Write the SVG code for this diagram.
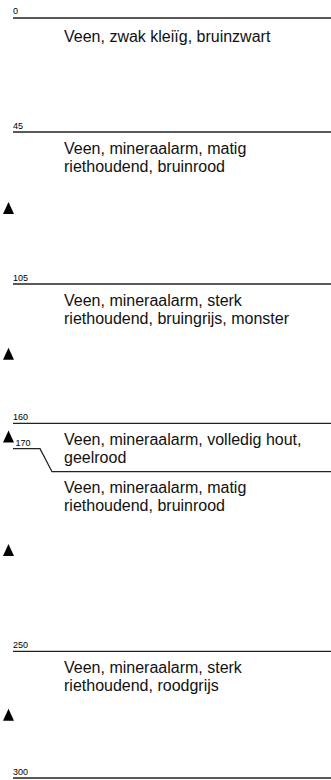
<svg xmlns="http://www.w3.org/2000/svg" width="331" height="780" viewBox="0 0 331 780">
<style>
.bnd{fill:none;stroke:#222;stroke-width:1.3}
.lbl{font-family:"Liberation Sans",Arial,sans-serif;font-size:9px;fill:#000}
.desc{font-family:"Liberation Sans",Arial,sans-serif;font-size:16px;fill:#111}
.tri{fill:#000}
</style>
<defs>
<polygon id="triangle" points="-5.5,6 5.5,6 0,-6"/>
</defs>
<rect width="331" height="780" fill="#fff"/>
<g id="boundaries">
<line class="bnd" x1="13" y1="18" x2="331" y2="18"/>
<line class="bnd" x1="13" y1="132" x2="331" y2="132"/>
<line class="bnd" x1="13" y1="284" x2="331" y2="284"/>
<line class="bnd" x1="13" y1="423.3" x2="331" y2="423.3"/>
<polyline class="bnd" points="13,448.7 40,448.7 52,471.7 331,471.7"/>
<line class="bnd" x1="13" y1="651.3" x2="331" y2="651.3"/>
<line class="bnd" x1="13" y1="778" x2="331" y2="778"/>
</g>
<g id="depth-labels">
<text class="lbl" x="13" y="14">0</text>
<text class="lbl" x="13" y="128.5">45</text>
<text class="lbl" x="13" y="280.5">105</text>
<text class="lbl" x="13" y="419.8">160</text>
<text class="lbl" x="15.5" y="446">170</text>
<text class="lbl" x="13" y="647.8">250</text>
<text class="lbl" x="13" y="774.5">300</text>
</g>
<g id="layer-0-45">
<text class="desc" x="64" y="42">Veen, zwak kleiïg, bruinzwart</text>
</g>
<g id="layer-45-105">
<text class="desc" x="64" y="153.5">Veen, mineraalarm, matig</text>
<text class="desc" x="64" y="171.5">riethoudend, bruinrood</text>
<use href="#triangle" class="tri" x="8.5" y="208"/>
</g>
<g id="layer-105-160">
<text class="desc" x="64" y="305.5">Veen, mineraalarm, sterk</text>
<text class="desc" x="64" y="323.5">riethoudend, bruingrijs, monster</text>
<use href="#triangle" class="tri" x="8.5" y="353.7"/>
</g>
<g id="layer-160-170">
<text class="desc" x="64" y="444.8">Veen, mineraalarm, volledig hout,</text>
<text class="desc" x="64" y="462.8">geelrood</text>
<use href="#triangle" class="tri" x="8.5" y="436.5"/>
</g>
<g id="layer-170-250">
<text class="desc" x="64" y="493.2">Veen, mineraalarm, matig</text>
<text class="desc" x="64" y="511.2">riethoudend, bruinrood</text>
<use href="#triangle" class="tri" x="8.5" y="550"/>
</g>
<g id="layer-250-300">
<text class="desc" x="64" y="672.8">Veen, mineraalarm, sterk</text>
<text class="desc" x="64" y="690.8">riethoudend, roodgrijs</text>
<use href="#triangle" class="tri" x="8.5" y="714.7"/>
</g>
</svg>
